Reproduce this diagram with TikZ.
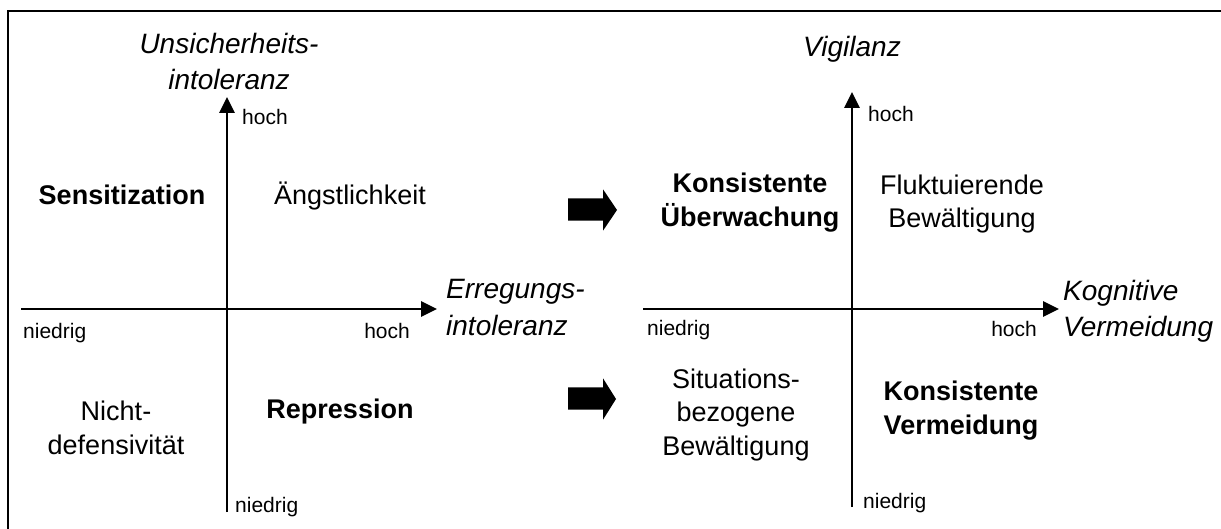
\documentclass[tikz,border=0pt]{standalone}
\usepackage{fontspec}
\setmainfont{Liberation Sans}
\usetikzlibrary{arrows.meta}
\tikzset{
  axis/.style={line width=2.7pt,-{Triangle[length=16pt,width=15pt]}},
  frameline/.style={line width=2pt},
  main/.style={inner sep=0pt,align=center,anchor=base,font=\fontsize{27}{33.5}\selectfont},
  mainbold/.style={main,font=\fontsize{27}{34}\selectfont\bfseries},
  axlabel/.style={inner sep=0pt,font=\fontsize{28}{36.5}\selectfont\itshape},
  small/.style={inner sep=0pt,font=\fontsize{21}{25}\selectfont},
  blockarrow/.style={fill=black}
}
\begin{document}
\begin{tikzpicture}[x=1pt,y=-1pt]
\useasboundingbox (0,0) rectangle (1221,529);
% frame (left and top visible)
\draw[frameline] (8,535) -- (8,11) -- (1230,11);

% ---------- left diagram ----------
\coordinate (L0) at (227,512);
\coordinate (L1) at (227,97);
\coordinate (H0) at (21,309);
\coordinate (H1) at (437,309);
\draw[axis] (L0) -- (L1);
\draw[axis] (H0) -- (H1);

% base anchor of multi-line nodes = baseline of last line
\node[axlabel,align=center,anchor=base] (yL) at (229,90) {Unsicherheits-\\intoleranz};
\node[axlabel,align=left,anchor=base west] (xL) at (446,335) {Erregungs-\\intoleranz};

\node[small,anchor=base west] (hLt) at (242,125) {hoch};
\node[small,anchor=base west] (nLl) at (23,338) {niedrig};
\node[small,anchor=base east] (hLr) at (410,338) {hoch};
\node[small,anchor=base west] (nLb) at (235,512) {niedrig};

\node[mainbold] (sens) at (122,205) {Sensitization};
\node[main] (angst) at (350,205) {Ängstlichkeit};
\node[main] (nicht) at (116,454) {Nicht-\\defensivität};
\node[mainbold] (repr) at (340,418) {Repression};

% ---------- block arrows ----------
\fill[blockarrow] (568,198.3) -- (603,198.3) -- (603,189.3) -- (617,210) -- (603,230.7) -- (603,220.7) -- (568,220.7) -- cycle;
\fill[blockarrow] (568,387.3) -- (603,387.3) -- (603,378.3) -- (616,399) -- (603,419.7) -- (603,409.7) -- (568,409.7) -- cycle;

% ---------- right diagram ----------
\coordinate (R0) at (852,507);
\coordinate (R1) at (852,92);
\coordinate (K0) at (643,309);
\coordinate (K1) at (1059,309);
\draw[axis] (R0) -- (R1);
\draw[axis] (K0) -- (K1);

\node[axlabel,anchor=base] (yR) at (852,57) {Vigilanz};
\node[axlabel,align=left,anchor=base west] (xR) at (1063,337) {Kognitive\\Vermeidung};

\node[small,anchor=base west] (hRt) at (868,122) {hoch};
\node[small,anchor=base west] (nRl) at (647,335) {niedrig};
\node[small,anchor=base east] (hRr) at (1037,337) {hoch};
\node[small,anchor=base west] (nRb) at (863,508) {niedrig};

\node[mainbold] (konsU) at (750,227) {Konsistente\\Überwachung};
\node[main] (fluk) at (962,228) {Fluktuierende\\Bewältigung};
\node[main] (situ) at (736,455) {Situations-\\bezogene\\Bewältigung};
\node[mainbold] (konsV) at (961,434) {Konsistente\\Vermeidung};
\end{tikzpicture}
\end{document}
